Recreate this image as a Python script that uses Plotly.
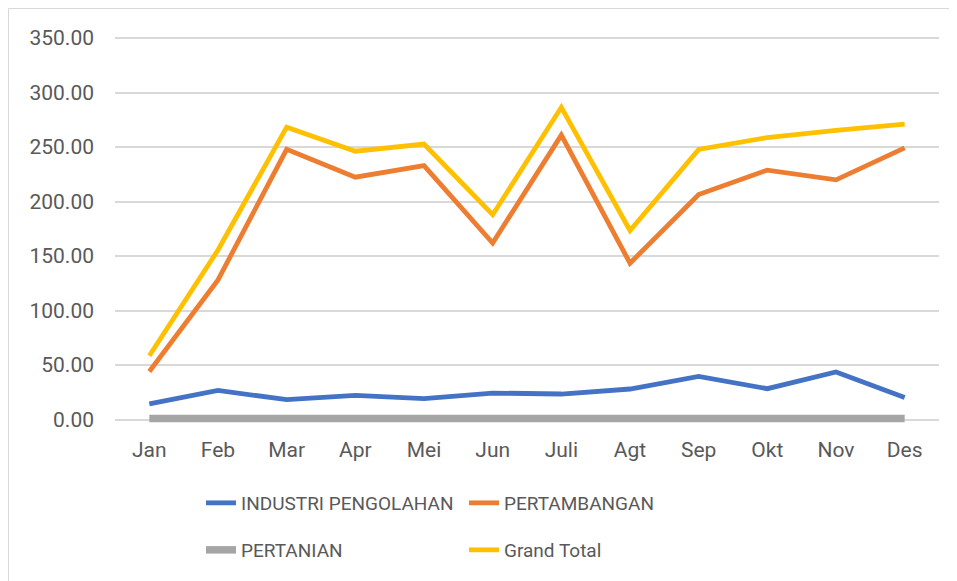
import plotly.graph_objects as go

months = ["Jan", "Feb", "Mar", "Apr", "Mei", "Jun", "Juli", "Agt", "Sep", "Okt", "Nov", "Des"]
industri = [14.4, 26.8, 18.3, 22.3, 19.2, 24.4, 23.5, 28.1, 39.6, 28.4, 43.7, 20.4]
pertambangan = [44.2, 128.2, 248.0, 222.4, 233.0, 162.0, 261.0, 143.5, 206.5, 228.9, 220.0, 249.3]
pertanian = [1.0, 1.0, 1.0, 1.0, 1.0, 1.0, 1.0, 1.0, 1.0, 1.0, 1.0, 1.0]
grand_total = [58.6, 155.6, 268.3, 246.2, 252.8, 188.0, 286.5, 173.5, 247.8, 258.8, 265.4, 271.0]
y_ticks = [0, 50, 100, 150, 200, 250, 300, 350]

FONT = "Roboto"
TXT = "#595959"

fig = go.Figure()
series = [
    ("INDUSTRI PENGOLAHAN", industri, "#4472C4", 4.8, "legend"),
    ("PERTAMBANGAN", pertambangan, "#ED7D31", 4.8, "legend"),
    ("PERTANIAN", pertanian, "#A5A5A5", 7.5, "legend2"),
    ("Grand Total", grand_total, "#FFC000", 4.8, "legend2"),
]
for name, vals, color, width, lg in series:
    fig.add_trace(go.Scatter(
        x=months, y=vals, name=name, mode="lines",
        line=dict(color=color, width=width),
        legend=lg,
    ))

# page body has an 8px margin, so figure coords = reference px - 8
OFF = 8
W, H = 957 - OFF, 581 - OFF
L, R, T, B = 115 - OFF, 18, 37 - OFF, 157
pw, ph = W - L - R, H - T - B

def px2x(px):
    return (px - OFF - L) / pw

def px2y(py):
    return (H - B - (py - OFF)) / ph

fig.update_layout(
    width=W, height=H,
    margin=dict(l=L, r=R, t=T, b=B),
    paper_bgcolor="white", plot_bgcolor="white",
    font=dict(family=FONT, size=21, color=TXT),
    xaxis=dict(
        type="category", range=[-0.5, len(months) - 0.5],
        showgrid=False, showline=False, zeroline=False,
        ticks="", tickfont=dict(family=FONT, size=21, color=TXT),
        ticklabelstandoff=11,
    ),
    yaxis=dict(
        range=[-4, 351], tickvals=y_ticks,
        ticktext=[f"{v:.2f}" for v in y_ticks],
        showgrid=True, gridcolor="#D9D9D9", gridwidth=1.5,
        zeroline=False, showline=False, ticks="",
        tickfont=dict(family=FONT, size=21, color=TXT),
        ticklabelstandoff=20,
    ),
    legend=dict(
        orientation="h", x=px2x(201), y=px2y(503), xanchor="left", yanchor="middle",
        entrywidth=218, entrywidthmode="pixels",
        font=dict(family=FONT, size=19, color=TXT), bgcolor="rgba(0,0,0,0)",
    ),
    legend2=dict(
        orientation="h", x=px2x(201), y=px2y(550), xanchor="left", yanchor="middle",
        entrywidth=218, entrywidthmode="pixels",
        font=dict(family=FONT, size=19, color=TXT), bgcolor="rgba(0,0,0,0)",
    ),
    shapes=[dict(
        type="rect", xref="paper", yref="paper",
        x0=px2x(8.5), x1=px2x(960), y0=px2y(600), y1=px2y(8.5),
        line=dict(color="#D9D9D9", width=1), fillcolor="rgba(0,0,0,0)", layer="below",
    )],
    showlegend=True,
)

fig.write_html("out.html")
